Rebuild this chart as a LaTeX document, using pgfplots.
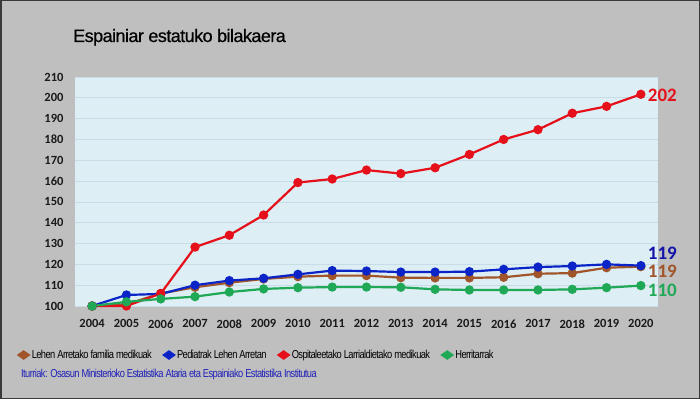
\documentclass[border=0pt]{standalone}
\usepackage{pgfplots}
\pgfplotsset{compat=1.18}
\usepackage{fontspec}
\setmainfont{Carlito}
\newfontfamily\arialfont[LetterSpace=-3,FakeBold=0.6]{Liberation Sans}
\newfontfamily\narrowfont[FakeStretch=0.81,LetterSpace=-5]{Liberation Sans}
\definecolor{bggray}{HTML}{BFBFBF}
\definecolor{bordergray}{HTML}{3A3A3A}
\definecolor{plotbg}{HTML}{DDEEF5}
\definecolor{gridc}{HTML}{C6DCE6}
\definecolor{cred}{HTML}{E6101A}
\definecolor{cblue}{HTML}{0A24C8}
\definecolor{cbrown}{HTML}{A0552A}
\definecolor{cgreen}{HTML}{1FA855}
\definecolor{lblue}{HTML}{1414AA}
\definecolor{srcblue}{HTML}{2020B8}
\definecolor{tickc}{HTML}{1A1A1A}

\pgfplotstableread{
year brown blue red green
2004 100.0 100.0 100.0 100.0
2005 100.8 105.3 100.0 102.0
2006 106.0 105.8 106.0 103.4
2007 109.0 110.0 128.3 104.5
2008 111.2 112.2 134.0 106.7
2009 113.0 113.3 143.7 108.2
2010 114.1 115.2 159.3 108.8
2011 114.6 117.0 161.0 109.1
2012 114.6 116.8 165.3 109.1
2013 113.6 116.3 163.6 109.0
2014 113.5 116.3 166.4 108.0
2015 113.5 116.5 172.8 107.7
2016 113.8 117.6 180.0 107.7
2017 115.5 118.7 184.7 107.7
2018 115.8 119.2 192.6 108.0
2019 118.4 120.0 195.9 108.8
2020 118.9 119.4 201.7 109.8
}\datatable

\begin{document}
\begin{tikzpicture}[x=1pt,y=1pt]
\fill[bggray] (0,0) rectangle (700,399);
\draw[line width=1.5pt, draw=bordergray] (0.75,0.75) rectangle (699.25,398.25);
\node[anchor=base west, inner sep=0pt, font=\arialfont\fontsize{18}{18}\selectfont, text=black] at (73,357) {Espainiar estatuko bilakaera};
\node[anchor=base west, inner sep=0pt, font=\narrowfont\fontsize{11.5}{13}\selectfont, text=srcblue] at (21,22) {Iturriak: Osasun Ministerioko Estatistika Ataria eta Espainiako Estatistika Institutua};
\begin{axis}[
  at={(75pt,93pt)}, anchor=south west,
  scale only axis, width=583pt, height=229pt,
  xmin=2003.5, xmax=2020.5, ymin=100, ymax=210,
  axis background/.style={fill=plotbg},
  axis line style={draw=none},
  major tick length=0pt,
  xtick={2004,2005,...,2020},
  ytick={100,110,...,210},
  ymajorgrids,
  grid style={draw=gridc, line width=0.8pt},
  /pgf/number format/1000 sep={},
  /pgf/number format/assume math mode=true,
  tick label style={font=\bfseries\fontsize{12.5}{12.5}\selectfont, text=tickc},
  xticklabel style={yshift=-10pt},
  yticklabel style={xshift=-8pt},
  clip=false,
  every axis plot/.append style={line width=2.2pt, mark=*, mark size=3.5pt},
  legend columns=4,
  legend style={at={(axis description cs:-0.104,-0.214)}, anchor=west, draw=none, fill=none,
    font=\narrowfont\fontsize{11.5}{13}\selectfont,
    /tikz/every even column/.append style={column sep=9pt}},
  legend image code/.code={\fill (5pt,0pt) +(0,3.5pt) -- +(5pt,0) -- +(0,-3.5pt) -- +(-5pt,0) -- cycle;},
]
\addplot[color=cbrown] table[x=year, y=brown] {\datatable};
\addlegendentry{Lehen Arretako familia medikuak}
\addplot[color=cblue] table[x=year, y=blue] {\datatable};
\addlegendentry{Pediatrak Lehen Arretan}
\addplot[color=cred] table[x=year, y=red] {\datatable};
\addlegendentry{Ospitaleetako Larrialdietako medikuak}
\addplot[color=cgreen] table[x=year, y=green] {\datatable};
\addlegendentry{Herritarrak}
\node[anchor=west, inner sep=0pt, font=\bfseries\fontsize{19}{19}\selectfont, text=cred] at (axis cs:2020.2,201.3) {202};
\node[anchor=west, inner sep=0pt, font=\bfseries\fontsize{19}{19}\selectfont, text=lblue] at (axis cs:2020.2,125.5) {119};
\node[anchor=west, inner sep=0pt, font=\bfseries\fontsize{19}{19}\selectfont, text=cbrown] at (axis cs:2020.2,116.5) {119};
\node[anchor=west, inner sep=0pt, font=\bfseries\fontsize{19}{19}\selectfont, text=cgreen] at (axis cs:2020.2,107.3) {110};
\end{axis}
\end{tikzpicture}
\end{document}
